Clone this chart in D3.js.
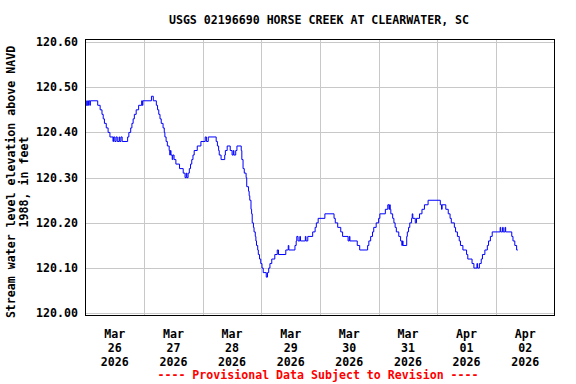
<!DOCTYPE html>
<html>
<head>
<meta charset="utf-8">
<script src="https://cdn.jsdelivr.net/npm/d3@7"></script>
<style>
  html, body { margin: 0; padding: 0; background: #fff; }
  svg { display: block; }
  text { font-family: "DejaVu Sans Mono", "Liberation Mono", monospace; font-weight: bold; font-size: 11.6px; }
</style>
</head>
<body>
<svg id="chart" width="576" height="384"></svg>
<script>
// ---- data ----
const titleText = "USGS 02196690 HORSE CREEK AT CLEARWATER, SC";
const yTitleLines = ["Stream water level elevation above NAVD", "1988, in feet"];
const footerText = "---- Provisional Data Subject to Revision ----";
const startDate = "2026-03-26T00:00:00";
const endDate = "2026-04-03T00:00:00";
const yTicks = [120.00, 120.10, 120.20, 120.30, 120.40, 120.50, 120.60];
const dayLabels = [
  ["Mar", "26", "2026"], ["Mar", "27", "2026"], ["Mar", "28", "2026"], ["Mar", "29", "2026"],
  ["Mar", "30", "2026"], ["Mar", "31", "2026"], ["Apr", "01", "2026"], ["Apr", "02", "2026"]
];
// hours after Mar 26 00:00 at which the reading changes
const obsHours = [
  0, 0.5, 0.75, 1.25, 1.75, 2, 5, 6, 6.75, 7.25, 7.75, 8.5, 9.25, 10, 11.25, 11.5, 12, 12.5, 13, 13.75,
  14, 14.5, 15, 17.25, 17.75, 18.5, 19, 19.5, 20, 20.75, 21.75, 23, 23.25, 23.5, 27, 27.75, 29, 29.5,
  30, 30.5, 31, 31.75, 32.25, 32.5, 33, 33.5, 34.25, 34.5, 34.75, 35, 35.5, 35.75, 36.25, 37, 38.5,
  40, 40.75, 41.25, 41.5, 42, 42.5, 43, 43.5, 44, 44.5, 45.75, 47.25, 49, 49.5, 50.25, 53.5, 54, 54.5,
  54.75, 55.5, 57, 57.25, 58, 59.25, 60, 60.5, 60.75, 61.5, 62, 63.75, 64, 64.5, 65, 65.75, 66, 66.75,
  67, 67.25, 67.75, 68, 68.25, 68.75, 69, 69.5, 69.75, 70, 70.5, 70.75, 71.25, 71.75, 72.25, 72.75,
  74, 74.5, 75, 75.5, 76.25, 77.5, 78.5, 79, 82, 83, 83.25, 85.75, 86.25, 86.5, 87, 87.75, 88, 90,
  90.25, 91, 93, 94, 94.5, 95.25, 98, 101.75, 102.25, 103.25, 104.5, 105.25, 107.5, 108, 108.25,
  111.25, 112.25, 115.5, 116, 116.75, 117.5, 118, 119, 120, 120.5, 122.75, 123.75, 124.25, 124.5,
  124.75, 125, 125.75, 126.25, 126.75, 127.25, 128.25, 129, 129.5, 129.75, 130, 131.5, 131.75, 132.25,
  132.75, 133.5, 133.75, 134, 135, 135.5, 136.75, 137.75, 138.75, 140.25, 145.25, 145.75, 146, 147.5,
  148.5, 149.25, 149.75, 151, 151.5, 152.25, 153, 153.5, 154.5, 156, 156.5, 158.25, 159, 160.25,
  160.5, 161.25, 162, 162.5, 163.5, 164.5, 165, 165.75, 166.5, 169.75, 170, 170.75, 171, 171.75, 172,
  174.5, 175, 175.75, 176.5, 177
];
const obsLevels = [
  120.46, 120.47, 120.46, 120.47, 120.46, 120.47, 120.46, 120.45, 120.44, 120.43, 120.42, 120.41, 120.40, 120.39, 120.38, 120.39, 120.38, 120.39, 120.38, 120.39,
  120.38, 120.39, 120.38, 120.39, 120.40, 120.41, 120.42, 120.43, 120.44, 120.45, 120.46, 120.47, 120.46, 120.47, 120.48, 120.47, 120.46, 120.45,
  120.44, 120.43, 120.42, 120.41, 120.40, 120.39, 120.38, 120.37, 120.36, 120.35, 120.36, 120.35, 120.34, 120.35, 120.34, 120.33, 120.32,
  120.31, 120.30, 120.31, 120.30, 120.31, 120.32, 120.33, 120.34, 120.35, 120.36, 120.37, 120.38, 120.39, 120.38, 120.39, 120.38, 120.37, 120.36,
  120.35, 120.34, 120.35, 120.36, 120.37, 120.36, 120.35, 120.36, 120.35, 120.36, 120.37, 120.36, 120.34, 120.32, 120.31, 120.30, 120.28, 120.27,
  120.26, 120.25, 120.23, 120.22, 120.20, 120.19, 120.18, 120.17, 120.16, 120.15, 120.14, 120.13, 120.12, 120.11, 120.10, 120.09,
  120.08, 120.09, 120.10, 120.11, 120.12, 120.13, 120.14, 120.13, 120.14, 120.15, 120.14, 120.15, 120.16, 120.17, 120.16, 120.17, 120.16, 120.17,
  120.16, 120.17, 120.18, 120.19, 120.20, 120.21, 120.22, 120.21, 120.20, 120.19, 120.18, 120.17, 120.16, 120.17, 120.16,
  120.15, 120.14, 120.15, 120.16, 120.17, 120.18, 120.19, 120.20, 120.21, 120.22, 120.23, 120.24, 120.23, 120.24,
  120.23, 120.22, 120.21, 120.20, 120.19, 120.18, 120.17, 120.16, 120.15, 120.16, 120.15, 120.17, 120.18, 120.19,
  120.20, 120.21, 120.22, 120.21, 120.20, 120.21, 120.22, 120.23, 120.24, 120.25, 120.24, 120.23, 120.24, 120.23,
  120.22, 120.21, 120.20, 120.19, 120.18, 120.17, 120.16, 120.15, 120.14, 120.13, 120.12, 120.11, 120.10, 120.11,
  120.10, 120.11, 120.12, 120.13, 120.14, 120.15, 120.16, 120.17, 120.18, 120.19, 120.18, 120.19, 120.18, 120.19, 120.18,
  120.17, 120.16, 120.15, 120.14, 120.14
];

// ---- chart ----
const svg = d3.select("#chart");
const frame = { left: 85.5, right: 554.5, top: 39.5, bottom: 315.5 };
const t0 = new Date(startDate), t1 = new Date(endDate);
const x = d3.scaleTime().domain([t0, t1]).range([frame.left, frame.right]);
const y = d3.scaleLinear().domain([120.0, 120.6]).range([313.3, 42]);

const data = obsHours.map((h, i) => ({ t: new Date(t0.getTime() + h * 3600e3), v: obsLevels[i] }));

const days = d3.timeDay.range(t0, t1);
const grid = svg.append("g").attr("stroke", "#c8c8c8").attr("stroke-width", 1);
grid.selectAll("line.h").data(yTicks).join("line")
  .attr("x1", frame.left).attr("x2", frame.right)
  .attr("y1", d => Math.round(y(d)) + 0.5).attr("y2", d => Math.round(y(d)) + 0.5);
grid.selectAll("line.v").data(days.slice(1)).join("line")
  .attr("x1", d => Math.round(x(d)) + 0.5).attr("x2", d => Math.round(x(d)) + 0.5)
  .attr("y1", frame.top).attr("y2", frame.bottom);

const line = d3.line().x(d => x(d.t)).y(d => y(d.v)).curve(d3.curveStepAfter);
svg.append("path").datum(data).attr("d", line)
  .attr("fill", "none").attr("stroke", "#0000ff").attr("stroke-width", 1);

svg.append("rect").attr("x", frame.left).attr("y", frame.top)
  .attr("width", frame.right - frame.left).attr("height", frame.bottom - frame.top)
  .attr("fill", "none").attr("stroke", "#000").attr("stroke-width", 1);

// y labels
svg.append("g").selectAll("text").data(yTicks).join("text")
  .attr("x", 78).attr("y", d => y(d) + 4).attr("text-anchor", "end")
  .text(d => d.toFixed(2));

// x labels
const xl = svg.append("g");
days.forEach((d, i) => {
  const cx = x(d3.timeHour.offset(d, 12));
  dayLabels[i].forEach((s, j) => {
    xl.append("text").attr("x", cx).attr("y", 338 + j * 14).attr("text-anchor", "middle").text(s);
  });
});

// title
svg.append("text").attr("x", 319).attr("y", 24).attr("text-anchor", "middle").text(titleText);
// y title
yTitleLines.forEach((s, i) => {
  svg.append("text").attr("transform", `translate(${15 + i * 13},182) rotate(-90)`)
    .attr("text-anchor", "middle").text(s);
});
// footer
svg.append("text").attr("x", 318).attr("y", 379).attr("text-anchor", "middle")
  .attr("fill", "#ff0000").text(footerText);
</script>
</body>
</html>
